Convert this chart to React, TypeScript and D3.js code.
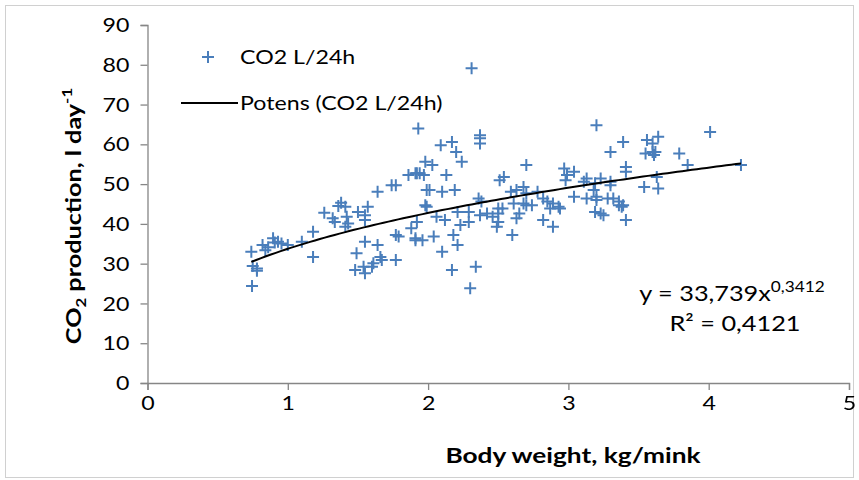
import React, { useEffect, useRef } from 'react';
import * as d3 from 'd3';

// body weight (kg/mink)
const weight = [
	0.74, 0.745, 0.75, 0.78, 0.78, 0.82, 0.84, 0.86, 0.895, 0.907, 0.93, 0.955, 1.0, 1.10, 1.18, 1.18,
	1.26, 1.32, 1.335, 1.36, 1.38, 1.41, 1.42, 1.43, 1.41, 1.50, 1.55, 1.57, 1.55, 1.55, 1.49, 1.48,
	1.54, 1.55, 1.60, 1.61, 1.64, 1.66, 1.67, 1.64, 1.74, 1.77, 1.77, 1.79, 1.77, 1.86, 1.92, 1.88, 1.91,
	1.93, 2.09, 2.17, 2.20, 2.24, 2.37, 2.37, 2.37, 1.98, 2.03, 1.94, 1.97, 1.91, 2.13, 1.99, 2.01, 2.10,
	2.19, 1.98, 2.51, 2.54, 2.70, 2.36, 2.38, 2.63, 2.68, 2.70, 2.97, 2.99, 3.04, 2.98, 3.11, 3.13, 3.20,
	3.19, 3.04, 3.13, 3.20, 2.59, 2.78, 2.82, 2.89, 2.93, 2.50,
	1.99, 1.92, 1.91, 1.96, 2.04, 2.10, 2.18, 2.21, 2.17, 2.34, 2.30, 2.06, 2.12, 2.21, 2.23, 2.29, 2.29,
	2.37, 2.42, 2.46, 2.50, 2.50, 2.49, 2.53, 2.60, 2.63, 2.65, 2.68, 2.70, 2.74, 2.82, 2.89, 2.85, 2.87,
	2.94, 3.19, 2.61,
	3.30, 3.39, 3.56, 3.60, 3.64, 3.55, 3.60, 3.62, 3.61, 3.79, 3.85, 4.01, 4.23, 3.41, 3.41, 3.23, 3.30,
	3.30, 3.63, 3.54, 3.64, 3.18, 3.20, 3.28, 3.32, 3.36, 3.39,
	3.23, 3.25, 3.36, 3.38, 3.41, 2.31
];

// CO2 production (l/day)
const co2 = [
	33.0, 24.4, 29.4, 28.8, 28.2, 34.7, 33.4, 34.1, 36.4, 35.3, 35.5, 35.1, 34.7, 35.5, 38.0, 31.7,
	42.8, 41.4, 40.5, 44.5, 45.3, 44.3, 41.8, 40.1, 39.3, 43.0, 42.2, 44.3, 41.0, 35.5, 32.6, 28.4,
	29.2, 27.6, 29.2, 30.1, 34.7, 31.7, 30.9, 48.1, 49.7, 49.7, 37.2, 36.8, 30.9, 52.3, 52.7, 38.9, 35.9,
	64.0, 59.8, 60.6, 58.1, 55.6, 62.3, 61.5, 60.2, 55.6, 54.8, 52.7, 52.3, 52.7, 52.3, 48.5, 48.5, 48.1,
	48.5, 44.7, 51.0, 51.8, 54.8, 46.4, 45.6, 48.5, 49.3, 47.7, 53.9, 52.3, 53.1, 51.0, 50.6, 51.4, 64.8,
	50.2, 46.8, 46.4, 46.0, 48.1, 48.1, 46.4, 45.1, 44.3, 43.9,
	44.3, 40.5, 36.4, 35.9, 36.8, 33.0, 37.2, 34.7, 28.4, 29.2, 23.8, 41.8, 41.0, 43.0, 39.7, 40.5, 43.0,
	42.2, 42.6, 41.8, 42.6, 40.5, 39.3, 43.9, 37.2, 41.4, 42.6, 45.1, 44.7, 44.7, 41.0, 39.3, 45.6, 43.9,
	43.9, 43.0, 45.1,
	58.1, 60.6, 61.1, 60.2, 61.9, 57.7, 58.1, 58.1, 57.3, 57.7, 54.8, 63.1, 54.8, 54.3, 53.1, 51.4, 50.6,
	49.7, 51.8, 49.3, 48.9, 48.5, 46.8, 46.4, 46.4, 45.6, 44.7,
	42.6, 42.2, 44.7, 44.3, 41.0, 79.1
];

const xTicks = [0, 1, 2, 3, 4, 5];
const yTicks = [0, 10, 20, 30, 40, 50, 60, 70, 80, 90];

// power trend line y = a * x^b
const fitA = 33.739;
const fitB = 0.3412;

const W = 859;
const H = 480;
const FONT = "Lato, 'Open Sans', sans-serif";
const BLUE = "#4a7ebb";
const AXIS = "#868686";
const SX = 1.22; // the original text is wide, stretch glyphs a little

export default function App() {
	const ref = useRef<SVGSVGElement>(null);

	useEffect(() => {
		const svg = d3.select(ref.current);
		svg.selectAll("*").remove();

		const margin = { left: 147.5, right: 10, top: 25, bottom: 97 };

		const x = d3.scaleLinear().domain([0, 5]).range([margin.left, W - margin.right]);
		const y = d3.scaleLinear().domain([0, 90]).range([H - margin.bottom, margin.top]);

		const label = (px: number, py: number, size: number, anchor: string, sx = SX) => {
			const g = svg.append("g").attr("transform", `translate(${px},${py}) scale(${sx},1)`);
			return g.append("text")
				.attr("text-anchor", anchor)
				.style("font-family", FONT)
				.style("font-size", size + "px")
				.attr("fill", "#000");
		};

		// outer border
		svg.append("rect")
			.attr("x", 5.5).attr("y", 5.5)
			.attr("width", W - 11).attr("height", H - 8)
			.attr("fill", "#fff")
			.attr("stroke", "#d0d0d0")
			.attr("stroke-width", 1);

		// axes
		const xAxis = svg.append("g")
			.attr("transform", `translate(0,${y(0)})`)
			.call(d3.axisBottom(x).tickValues(xTicks).tickSize(7).tickPadding(7).tickFormat(d3.format("d")));
		const yAxis = svg.append("g")
			.attr("transform", `translate(${x(0)},0)`)
			.call(d3.axisLeft(y).tickValues(yTicks).tickSize(7).tickPadding(11).tickFormat(d3.format("d")));

		[xAxis, yAxis].forEach(g => {
			g.select(".domain").attr("stroke", AXIS).attr("stroke-width", 1.3);
			g.selectAll(".tick line").attr("stroke", AXIS).attr("stroke-width", 1.3);
			g.selectAll(".tick text")
				.style("font-family", FONT)
				.style("font-size", "19px")
				.attr("fill", "#000");
		});
		xAxis.selectAll(".tick text").attr("transform", `scale(${SX},1)`);
		yAxis.selectAll(".tick text")
			.attr("dy", "0.35em")
			.attr("x", -18 / SX)
			.attr("transform", `scale(${SX},1)`);

		// points
		const pts = weight.map((w, i) => [w, co2[i]] as [number, number]);
		const s = 6;
		const marks = svg.append("g");
		pts.forEach(([a, b]) => {
			const px = x(a), py = y(b);
			marks.append("path")
				.attr("d", `M${px - s},${py}H${px + s}M${px},${py - s}V${py + s}`)
				.attr("stroke", BLUE)
				.attr("stroke-width", 2)
				.attr("fill", "none");
		});

		// trend line
		const xmin = d3.min(weight) as number;
		const xmax = d3.max(weight) as number;
		const trend = d3.range(0, 101).map(i => {
			const xv = xmin + (xmax - xmin) * i / 100;
			return [xv, fitA * Math.pow(xv, fitB)] as [number, number];
		});
		svg.append("path")
			.datum(trend)
			.attr("fill", "none")
			.attr("stroke", "#000")
			.attr("stroke-width", 2)
			.attr("d", d3.line<[number, number]>().x(d => x(d[0])).y(d => y(d[1])));

		// legend
		svg.append("path")
			.attr("d", `M${208 - s},57H${208 + s}M208,${57 - s}V${57 + s}`)
			.attr("stroke", BLUE).attr("stroke-width", 2);
		label(240, 57, 19, "start").attr("dy", "0.35em").text("CO2 L/24h");
		svg.append("line")
			.attr("x1", 181).attr("x2", 238).attr("y1", 103).attr("y2", 103)
			.attr("stroke", "#000").attr("stroke-width", 2);
		label(240, 103, 19, "start").attr("dy", "0.35em").text("Potens (CO2 L/24h)");

		// equation
		const t1 = label(732, 301, 22, "middle", 1.15);
		t1.append("tspan").text("y = 33,739x");
		t1.append("tspan").attr("dy", -9).style("font-size", "15px").text("0,3412");
		label(735, 331, 22, "middle", 1.15).text("R² = 0,4121");

		// axis titles
		label(573, 463, 21, "middle", 1.25)
			.style("font-weight", "bold")
			.text("Body weight, kg/mink");

		const yg = svg.append("g").attr("transform", `translate(81,216) rotate(-90) scale(1.2,1)`);
		const yt = yg.append("text")
			.attr("text-anchor", "middle")
			.style("font-family", FONT).style("font-size", "21px").style("font-weight", "bold");
		yt.append("tspan").text("CO");
		yt.append("tspan").attr("dy", 5).style("font-size", "14px").text("2");
		yt.append("tspan").attr("dy", -5).text(" production, l day");
		yt.append("tspan").attr("dy", -9).style("font-size", "14px").text("-1");
	}, []);

	return (
		<div style={{ position: "fixed", left: 0, top: 0 }}>
			<svg ref={ref} width={W} height={H} style={{ display: "block" }} />
		</div>
	);
}
